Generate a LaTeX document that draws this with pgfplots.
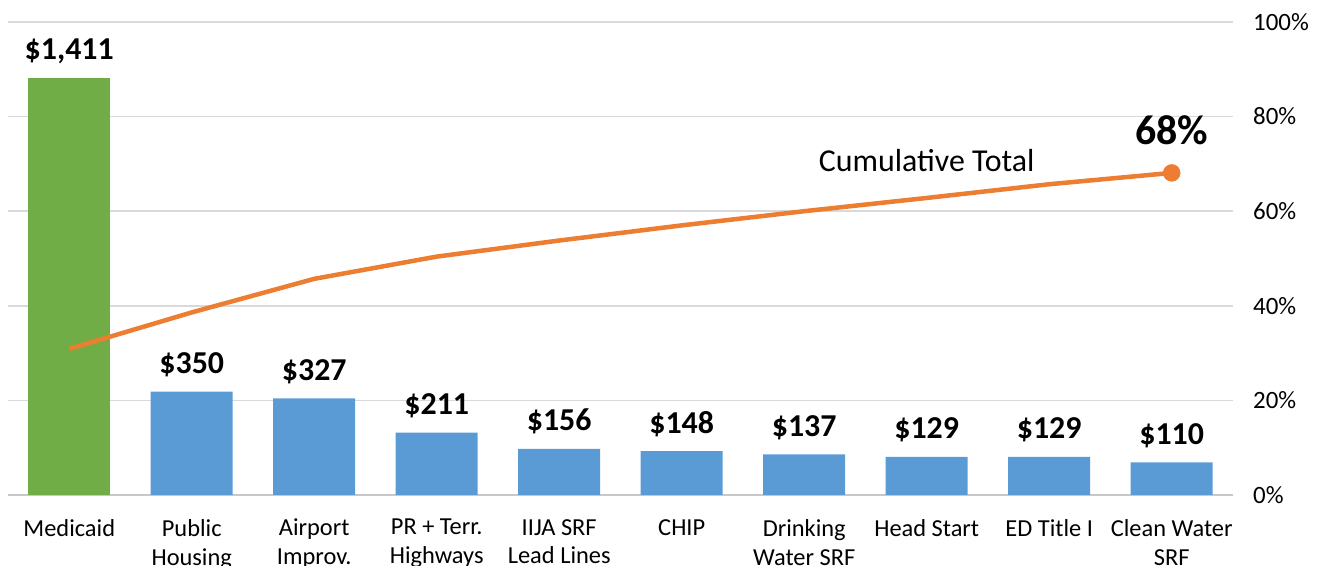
\documentclass[border=0pt]{standalone}
\usepackage{pgfplots}
\pgfplotsset{compat=1.18}
\usepackage{fontspec}
\setmainfont{Carlito}
\definecolor{cgreen}{HTML}{70AD47}
\definecolor{cblue}{HTML}{5B9BD5}
\definecolor{corange}{HTML}{ED7D31}
\definecolor{cgrid}{HTML}{D9D9D9}
\definecolor{caxis}{HTML}{C8C8C8}
\begin{document}
\begin{tikzpicture}
\useasboundingbox (0,0) rectangle (1320bp,566bp);
\pgfplotsset{common/.style={
  at={(8bp,71bp)}, anchor=south west, scale only axis,
  width=1225bp, height=473bp,
  xmin=-0.5, xmax=9.5,
  /pgf/number format/assume math mode=true,
}}
% bars
\begin{axis}[common,
  ymin=0, ymax=1600,
  axis x line*=bottom, axis y line*=left,
  x axis line style={draw=caxis, line width=1.5bp, -},
  y axis line style={draw=none},
  xtick={0,...,9}, major tick length=0pt,
  xticklabels={Medicaid,{Public\\Housing},{Airport\\Improv.},{PR + Terr.\\Highways},{IIJA SRF\\Lead Lines},CHIP,{Drinking\\Water SRF},Head Start,ED Title I,{Clean Water\\SRF}},
  xticklabel style={font=\fontsize{24.5}{29}\selectfont, align=center, anchor=north, inner sep=0pt, yshift=-24bp},
  ytick={320,640,960,1280,1600}, yticklabels={}, ymajorgrids,
  grid style={draw=cgrid, line width=1.5bp},
  ybar, bar width=82bp, bar shift=0pt,
  nodes near coords={\$\pgfmathprintnumber{\pgfplotspointmeta}},
  /pgf/number format/1000 sep={,},
  nodes near coords style={font=\fontsize{32}{38}\bfseries\selectfont, anchor=base, inner sep=0pt, yshift=18bp, text=black},
]
\addplot[fill=cgreen, draw=none] coordinates {(0,1411)};
\addplot[fill=cblue, draw=none] coordinates {(1,350) (2,327) (3,211) (4,156) (5,148) (6,137) (7,129) (8,129) (9,110)};
\end{axis}
% cumulative line
\begin{axis}[common,
  ymin=0, ymax=100,
  axis x line=none, axis y line*=right,
  y axis line style={draw=none},
  ytick={0,20,...,100}, major tick length=0pt,
  yticklabel={\pgfmathprintnumber{\tick}\%},
  yticklabel style={font=\fontsize{25}{30}\selectfont, anchor=west, inner sep=0pt, xshift=20bp},
  clip=false,
]
\addplot[corange, line width=4.5bp, line join=round] coordinates {(0,30.9) (1,38.6) (2,45.7) (3,50.4) (4,53.8) (5,57.0) (6,60.0) (7,62.8) (8,65.7) (9,68.1)};
\addplot[corange, only marks, mark=*, mark size=8.5bp] coordinates {(9,68.1)};
\node[font=\fontsize{32}{38}\selectfont] at (axis cs:7.0,70.8) {Cumulative Total};
\node[font=\fontsize{42}{50}\bfseries\selectfont] at (axis cs:9.0,77.2) {68\%};
\end{axis}
\end{tikzpicture}
\end{document}
